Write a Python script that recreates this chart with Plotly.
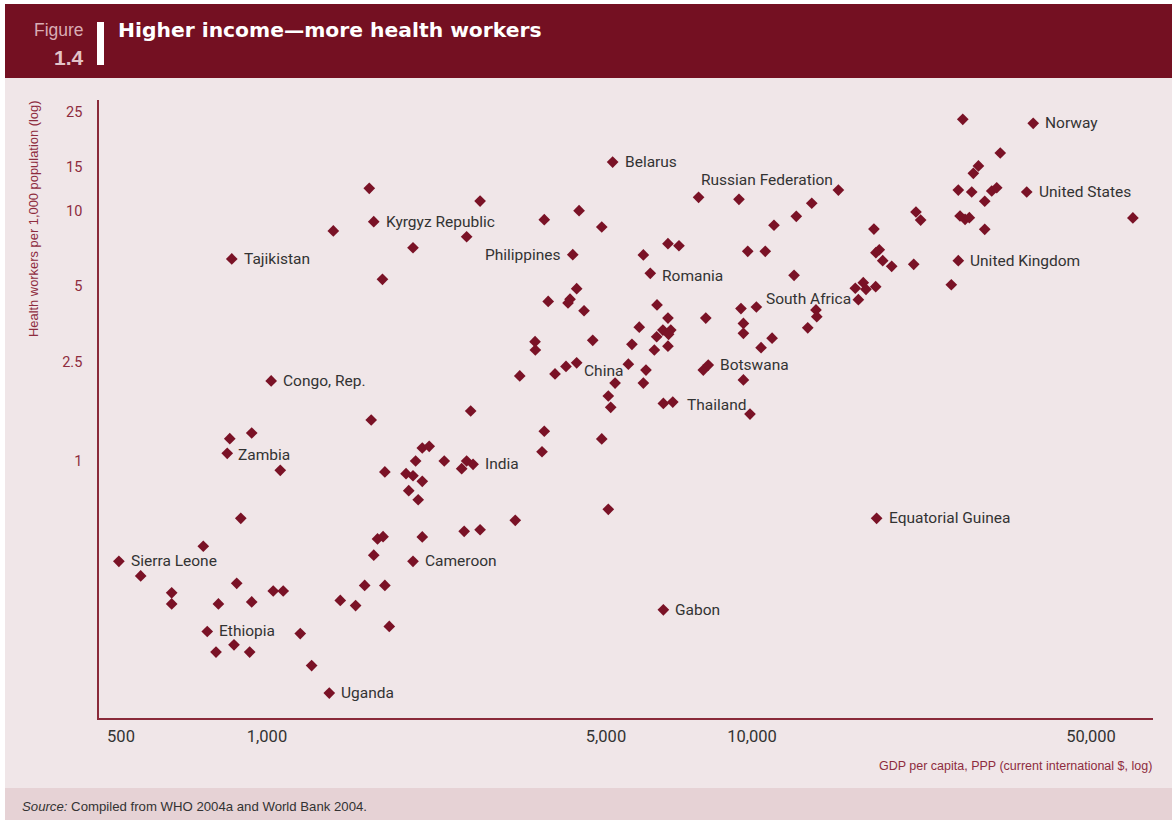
import math
import plotly.graph_objects as go

# ---------------- data ----------------
gdp = [1625, 2750, 1660, 1370, 2580, 2000, 846, 1730, 1020, 2630,
       1640, 838, 930, 828, 1065, 2090, 2160, 2025, 2320, 2580,
       2660, 2520, 1750, 1935, 2000, 2090, 1960, 2050, 883, 2550,
       2750, 1690, 1735, 2090, 739, 495, 1660, 2000, 549, 636,
       636, 866, 794, 930, 1030, 1080, 1590, 1750, 1416, 1523,
       1787, 753, 1171, 855, 785, 921, 1236, 1344, 5160, 7760,
       9400, 15070, 13280, 12340, 11100, 17840, 4400, 3730, 4900, 4270,
       5970, 6710, 7070, 9800, 10650, 6170, 12210, 4350, 3800, 4215,
       4175, 4505, 6370, 6710, 8030, 9490, 10210, 5855, 6550, 6800,
       6360, 6730, 9600, 9600, 13550, 13600, 13030, 16330, 16960, 17180,
       17990, 16570, 3570, 3575, 4695, 5655, 6290, 6710, 11000, 10440,
       3320, 3925, 4135, 4350, 5560, 6045, 5220, 5970, 7935, 8125,
       9600, 5055, 5113, 6565, 6865, 9905, 3730, 3690, 4900, 5055,
       3250, 6565, 18070, 27200, 38000, 32500, 29300, 28600, 26630, 28380,
       31210, 31960, 30190, 36850, 21780, 22270, 26850, 27500, 28060, 30190,
       61000, 18300, 18010, 18600, 19410, 21550, 26630, 25760]

health_workers = [12.32, 10.96, 9.06, 8.32, 7.89, 7.13, 6.43, 5.33, 2.09, 1.585,
                  1.459, 1.228, 1.294, 1.073, 0.918, 1.127, 1.145, 1.0, 1.0, 1.0,
                  0.970, 0.932, 0.904, 0.890, 0.873, 0.829, 0.761, 0.700, 0.590, 0.523,
                  0.531, 0.488, 0.498, 0.497, 0.456, 0.397, 0.420, 0.397, 0.347, 0.297,
                  0.268, 0.324, 0.268, 0.273, 0.302, 0.302, 0.318, 0.318, 0.277, 0.264,
                  0.218, 0.208, 0.204, 0.184, 0.172, 0.172, 0.152, 0.118, 15.70, 11.34,
                  11.14, 12.13, 10.74, 9.52, 8.77, 8.47, 10.03, 9.23, 8.63, 6.69,
                  6.67, 7.40, 7.26, 6.90, 6.90, 5.63, 5.53, 4.89, 4.35, 4.44,
                  4.29, 3.99, 4.21, 3.73, 3.73, 4.07, 4.13, 3.43, 3.34, 3.34,
                  3.14, 3.21, 3.55, 3.24, 4.02, 3.78, 3.41, 4.91, 5.17, 4.86,
                  4.98, 4.42, 3.00, 2.78, 3.04, 2.93, 2.78, 2.88, 3.10, 2.84,
                  2.19, 2.23, 2.39, 2.47, 2.44, 2.31, 2.05, 2.05, 2.31, 2.42,
                  2.11, 1.82, 1.64, 1.70, 1.72, 1.54, 1.315, 1.089, 1.225, 0.641,
                  0.579, 0.254, 0.590, 23.27, 22.43, 17.06, 15.14, 14.15, 12.13, 11.91,
                  12.02, 12.39, 10.94, 11.91, 9.91, 9.20, 9.55, 9.26, 9.40, 8.45,
                  9.38, 7.00, 6.81, 6.33, 6.01, 6.12, 6.33, 5.07]

# index of point -> country name shown on the chart
named_points = {
    2: "Kyrgyz Republic", 6: "Tajikistan", 8: "Congo, Rep.", 13: "Zambia",
    20: "India", 35: "Sierra Leone", 37: "Cameroon", 51: "Ethiopia",
    57: "Uganda", 58: "Belarus", 59: "Russian Federation", 69: "Philippines",
    75: "Romania", 86: "South Africa", 113: "China", 119: "Botswana",
    124: "Thailand", 131: "Gabon", 132: "Equatorial Guinea", 134: "Norway",
    143: "United States", 156: "United Kingdom",
}

x_tick_values = [500, 1000, 5000, 10000, 50000]
x_tick_labels = ["500", "1,000", "5,000", "10,000", "50,000"]
y_tick_values = [1, 2.5, 5, 10, 15, 25]
y_tick_labels = ["1", "2.5", "5", "10", "15", "25"]

# ---------------- styles ----------------
LABEL_FONT = "Roboto, Liberation Sans, sans-serif"
SANS = "Liberation Sans, Arial, sans-serif"
MAROON = "#741022"
MARKER = "#7a1226"
AXIS_TXT = "#8e2c3e"
PINK = "#f0e6e8"
FOOT = "#e6d2d5"
DARK = "#333333"

# label placement: (xanchor, xshift, yshift)
label_style = {
    "Philippines": ("right", -10, 0),
    "Russian Federation": ("left", 0, 17),
    "Romania": ("left", 10, -3),
    "South Africa": ("left", 8, 8),
    "China": ("left", 5, -8),
    "Zambia": ("left", 9, -2),
    "Thailand": ("left", 12, -3),
}

W, H = 1172, 820
L, R, T, B = 99, 1153, 100, 718   # plot area in pixels


def px(x):
    return (x - L) / (R - L)


def py(y):
    return (B - y) / (B - T)


fig = go.Figure()
fig.add_trace(go.Scatter(
    x=gdp, y=health_workers, mode="markers",
    marker=dict(symbol="diamond", size=9, color=MARKER, line=dict(width=0)),
    hoverinfo="skip", showlegend=False,
))

annotations = []
for i, name in named_points.items():
    xa, xs, ys = label_style.get(name, ("left", 10, 0))
    annotations.append(dict(
        x=math.log10(gdp[i]), y=math.log10(health_workers[i]), xref="x", yref="y",
        text=name, showarrow=False, xanchor=xa, yanchor="middle",
        xshift=xs, yshift=ys, font=dict(family=LABEL_FONT, size=15.5, color=DARK),
    ))

# header texts
annotations += [
    dict(x=px(86), y=py(30), xref="paper", yref="paper", text="Figure", showarrow=False,
         xanchor="right", yanchor="middle", font=dict(family=SANS, size=17.5, color="#d9adb5")),
    dict(x=px(86), y=py(57), xref="paper", yref="paper", text="<b>1.4</b>", showarrow=False,
         xanchor="right", yanchor="middle", font=dict(family=SANS, size=21, color="#e3c3c8")),
    dict(x=px(116), y=py(30), xref="paper", yref="paper",
         text="<b>Higher income\u2014more health workers</b>", showarrow=False,
         xanchor="left", yanchor="middle",
         font=dict(family="DejaVu Sans, Liberation Sans, sans-serif", size=20.3, color="white")),
    # axis titles
    dict(x=px(33), y=py(99), xref="paper", yref="paper",
         text="Health workers per 1,000 population (log)", showarrow=False, textangle=-90,
         xanchor="center", yanchor="top", font=dict(family=SANS, size=12.9, color=AXIS_TXT)),
    dict(x=px(1154), y=py(766), xref="paper", yref="paper",
         text="GDP per capita, PPP (current international $, log)", showarrow=False,
         xanchor="right", yanchor="middle", font=dict(family=SANS, size=12.5, color=AXIS_TXT)),
    # source
    dict(x=px(20), y=py(806), xref="paper", yref="paper",
         text="<i>Source:</i> Compiled from WHO 2004a and World Bank 2004.", showarrow=False,
         xanchor="left", yanchor="middle", font=dict(family=SANS, size=13.2, color=DARK)),
]

shapes = [
    dict(type="rect", xref="paper", yref="paper", x0=px(5), x1=px(W), y0=py(78), y1=py(788),
         fillcolor=PINK, line=dict(width=0), layer="below"),
    dict(type="rect", xref="paper", yref="paper", x0=px(5), x1=px(W), y0=py(788), y1=py(H),
         fillcolor=FOOT, line=dict(width=0), layer="below"),
    dict(type="rect", xref="paper", yref="paper", x0=px(5), x1=px(W), y0=py(4), y1=py(78),
         fillcolor=MAROON, line=dict(width=0), layer="below"),
    dict(type="rect", xref="paper", yref="paper", x0=px(97), x1=px(104), y0=py(22), y1=py(65),
         fillcolor="white", line=dict(width=0), layer="above"),
]

x_lo = math.log10(1000) + (L - 267) / 485
x_hi = math.log10(1000) + (R - 267) / 485
y_lo = (461 - B) / 250
y_hi = (461 - T) / 250

fig.update_layout(
    width=W, height=H,
    margin=dict(l=L, r=W - R, t=T, b=H - B, pad=0),
    paper_bgcolor="white", plot_bgcolor="rgba(0,0,0,0)",
    showlegend=False,
    annotations=annotations, shapes=shapes,
    xaxis=dict(type="log", range=[x_lo, x_hi], tickvals=x_tick_values, ticktext=x_tick_labels,
               showgrid=False, zeroline=False, showline=True, linecolor="#8a2a3a", linewidth=1.5,
               ticks="outside", ticklen=2, tickcolor="rgba(0,0,0,0)",
               tickfont=dict(family=LABEL_FONT, size=16.5, color=DARK)),
    yaxis=dict(type="log", range=[y_lo, y_hi], tickvals=y_tick_values, ticktext=y_tick_labels,
               showgrid=False, zeroline=False, showline=True, linecolor="#8a2a3a", linewidth=1.5,
               ticks="outside", ticklen=12, tickcolor="rgba(0,0,0,0)",
               tickfont=dict(family=LABEL_FONT, size=14.5, color=AXIS_TXT)),
)

fig.write_html("out.html")
